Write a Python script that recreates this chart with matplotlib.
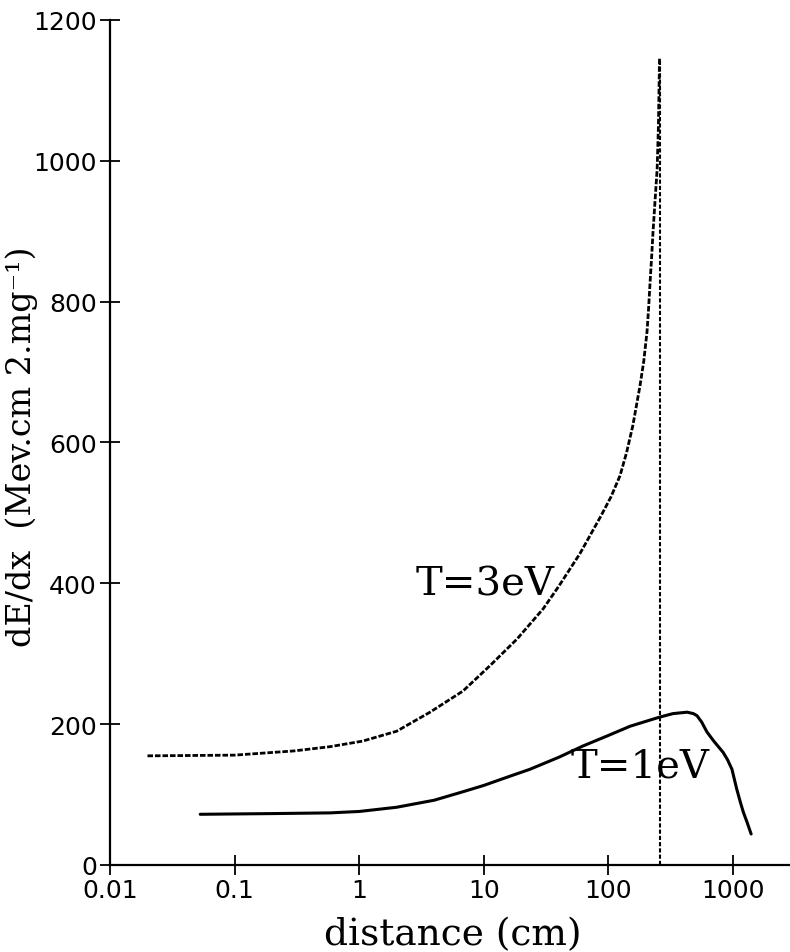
import matplotlib
matplotlib.use("Agg")
import matplotlib.pyplot as plt
from matplotlib.ticker import FixedLocator, FixedFormatter, NullLocator

# ---- data ----
t1_x = [0.053, 0.2, 0.583, 1.0, 2.0, 4.0, 6.8, 10, 15, 23.5, 40, 62.5, 100, 149, 200, 258,
        330, 428, 480, 514, 560, 617, 700, 832, 900, 980, 1070, 1150, 1210, 1300, 1397]
t1_y = [72, 73, 74, 76, 82, 92, 104, 113, 124, 136, 153, 169, 184, 197, 204, 210,
        215, 217, 215, 212, 203, 189, 176, 160, 150, 136, 108, 88, 75, 60, 44]

t3_x = [0.020, 0.1, 0.3, 0.583, 1.07, 2.0, 3.7, 6.8, 11.2, 18.5, 30, 40, 59, 87.3, 105, 124,
        140, 157, 179, 192, 204, 210, 216, 222, 228, 237, 246, 252, 257]
t3_y = [155, 156, 162, 168, 176, 190, 217, 247, 283, 321, 364, 396, 442, 496, 523, 553,
        586, 624, 680, 715, 757, 790, 828, 862, 899, 945, 988, 1050, 1145]

vline_x = [258, 258]
vline_y = [0, 1145]

x_ticks = [0.01, 0.1, 1, 10, 100, 1000]
x_ticklabels = ["0.01", "0.1", "1", "10", "100", "1000"]
y_ticks = [0, 200, 400, 600, 800, 1000, 1200]
y_ticklabels = ["0", "200", "400", "600", "800", "1000", "1200"]

fig = plt.figure(figsize=(7.9, 9.53), dpi=100)
ax = fig.add_axes([0.1392, 0.0913, 0.8608, 0.8867])

ax.plot(t1_x, t1_y, color="black", lw=2.2, solid_capstyle="round", solid_joinstyle="round")
ax.plot(t3_x, t3_y, color="black", lw=2.0, linestyle=(0, (2.0, 0.7)))
ax.plot(vline_x, vline_y, color="black", lw=1.5, linestyle=(0, (2, 1)))

ax.set_xscale("log")
ax.set_xlim(0.01, 2865)
ax.set_ylim(0, 1200)

ax.xaxis.set_major_locator(FixedLocator(x_ticks))
ax.xaxis.set_major_formatter(FixedFormatter(x_ticklabels))
ax.xaxis.set_minor_locator(NullLocator())
ax.yaxis.set_major_locator(FixedLocator(y_ticks))
ax.yaxis.set_major_formatter(FixedFormatter(y_ticklabels))

for s in ["top", "right"]:
    ax.spines[s].set_visible(False)
for s in ["left", "bottom"]:
    ax.spines[s].set_linewidth(1.6)

ax.tick_params(axis="both", which="major", direction="inout", length=15, width=1.3,
               labelsize=18, pad=2)
for lab in ax.get_xticklabels() + ax.get_yticklabels():
    lab.set_fontfamily("DejaVu Sans")

ax.set_xlabel("distance (cm)", fontfamily="DejaVu Serif", fontsize=27, va="center", ha="center")
ax.xaxis.set_label_coords(0.504, -0.082)
ax.set_ylabel("dE/dx  (Mev.cm 2.mg\u207b\u00b9)", fontfamily="DejaVu Serif", fontsize=24,
              va="center", ha="center")
ax.yaxis.set_label_coords(-0.130, 0.496)

ax.text(10.2, 399, "T=3eV", fontfamily="DejaVu Serif", fontsize=29, ha="center", va="center")
ax.text(179, 141, "T=1eV", fontfamily="DejaVu Serif", fontsize=29, ha="center", va="center")

fig.savefig("out.png", dpi=100)
